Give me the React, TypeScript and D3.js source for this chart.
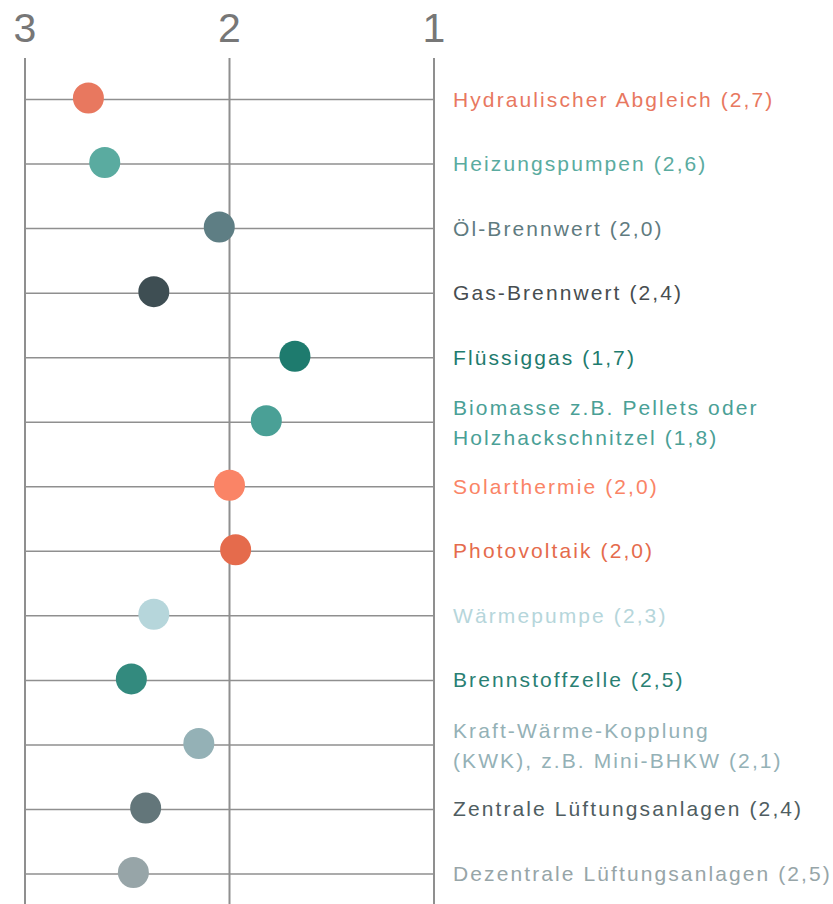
import React from 'react';
import * as d3 from 'd3';

const labels: string[][] = [
  ['Hydraulischer Abgleich (2,7)'],
  ['Heizungspumpen (2,6)'],
  ['Öl-Brennwert (2,0)'],
  ['Gas-Brennwert (2,4)'],
  ['Flüssiggas (1,7)'],
  ['Biomasse z.B. Pellets oder', 'Holzhackschnitzel (1,8)'],
  ['Solarthermie (2,0)'],
  ['Photovoltaik (2,0)'],
  ['Wärmepumpe (2,3)'],
  ['Brennstoffzelle (2,5)'],
  ['Kraft-Wärme-Kopplung', '(KWK), z.B. Mini-BHKW (2,1)'],
  ['Zentrale Lüftungsanlagen (2,4)'],
  ['Dezentrale Lüftungsanlagen (2,5)'],
];

const values = [2.69, 2.61, 2.05, 2.37, 1.68, 1.82, 2.0, 1.97, 2.37, 2.48, 2.15, 2.41, 2.47];

const dotColors = [
  '#e8785f', '#5aaba0', '#5e7e84', '#3e4e53', '#1e7b6e', '#4aa096', '#fa8466',
  '#e56b4c', '#b6d6db', '#338a7e', '#94b1b6', '#63767a', '#97a5a8',
];

const textColors = [
  '#e8785f', '#5aaba0', '#5f7b80', '#474d50', '#1e7b6e', '#4aa096', '#fa8466',
  '#e56b4c', '#b6d6db', '#2a7f73', '#94b1b6', '#4f5d61', '#97a5a8',
];

const ticks = [3, 2, 1];

const W = 833;
const H = 904;

export default function App() {
  const x = d3.scaleLinear().domain([3, 1]).range([25, 434]);
  const y = d3.scalePoint<number>()
    .domain(d3.range(labels.length))
    .range([99.5, 874]);

  const font = '"Liberation Sans", Arial, sans-serif';

  return (
    <svg width={W} height={H} style={{ position: 'absolute', left: 0, top: 0, background: '#fff' }}>
      {ticks.map(t => (
        <g key={t}>
          <line x1={x(t)} x2={x(t)} y1={58} y2={H} stroke="#8f8f8f" strokeWidth={2} />
          <text x={x(t)} y={42} textAnchor="middle" fontFamily={font} fontSize={41}
            fill="#777">{t}</text>
        </g>
      ))}
      {labels.map((lab, i) => {
        const yy = y(i) as number;
        return (
          <g key={i}>
            <line x1={x(3)} x2={x(1)} y1={yy} y2={yy} stroke="#8f8f8f" strokeWidth={1.5} />
            <circle cx={x(values[i])} cy={yy - 1.5} r={15.5} fill={dotColors[i]} />
            {lab.map((line, j) => (
              <text key={j} x={453}
                y={yy + 7 + (j - (lab.length - 1) / 2) * 30 + (lab.length > 1 ? 1 : 0)}
                fontFamily={font} fontSize={21} letterSpacing={2.1}
                fill={textColors[i]}>{line}</text>
            ))}
          </g>
        );
      })}
    </svg>
  );
}
